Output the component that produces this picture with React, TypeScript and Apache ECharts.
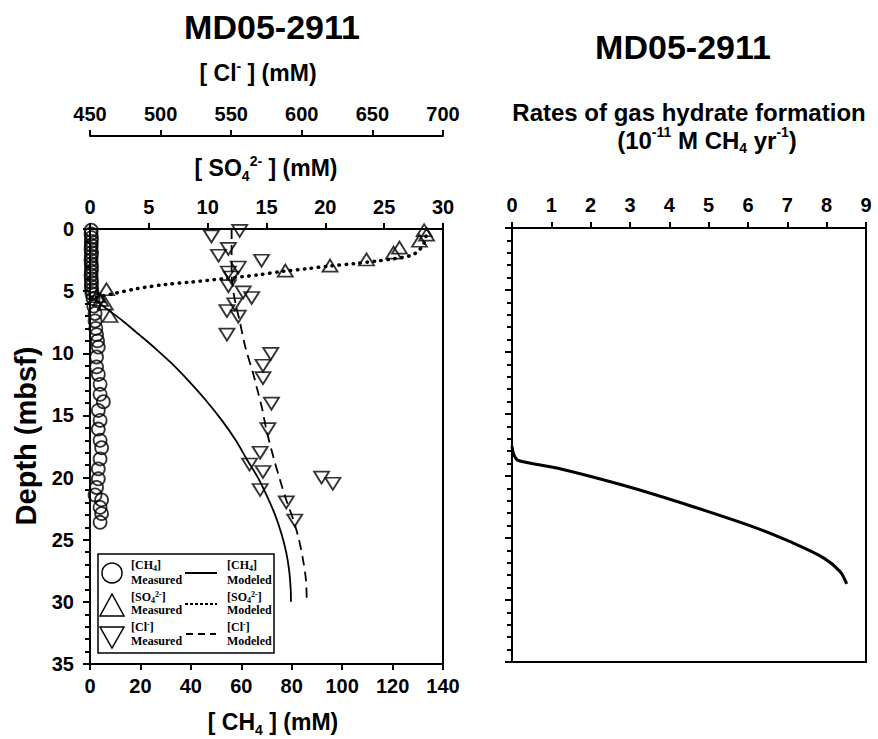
import React, { useEffect, useRef } from "react";
import * as echarts from "echarts";

const FONT = "'Liberation Sans', Arial, Helvetica, sans-serif";
const SERIF = "'Liberation Serif', 'Times New Roman', serif";

// ---- Axis ranges / ticks ----
const depthAxis = { min: 0, max: 35, interval: 5 };
const so4Axis = { min: 0, max: 30, interval: 5 };
const clAxis = { min: 450, max: 700, interval: 50 };
const ch4Axis = { min: 0, max: 140, interval: 20 };
const rateAxis = { min: 0, max: 9, interval: 1 };

// ---- Measured CH4 (mM) vs depth (mbsf) ----
const ch4MeasDepth = [0.1, 0.4, 0.7, 1.0, 1.3, 1.6, 1.9, 2.2, 2.5, 2.8, 3.1, 3.4, 3.7, 4.0, 4.3, 4.6, 4.9, 5.2, 5.6, 6.2, 6.8, 7.4, 8.0, 8.5, 9.0, 9.5, 10.3, 11.1, 11.7, 12.5, 13.3, 13.9, 14.6, 15.4, 16.1, 17.0, 17.6, 18.5, 19.3, 20.1, 20.8, 21.4, 21.8, 22.4, 22.9, 23.6];
const ch4MeasConc = [0.5, 0.4, 0.6, 0.5, 0.5, 0.4, 0.6, 0.5, 0.4, 0.5, 0.6, 0.5, 0.4, 0.5, 0.6, 0.5, 0.7, 0.8, 1.2, 1.5, 2.0, 2.0, 2.3, 2.6, 3.0, 3.3, 2.6, 2.6, 3.3, 4.0, 4.0, 5.3, 3.3, 4.0, 3.3, 4.0, 4.6, 4.0, 3.3, 3.3, 2.6, 2.0, 4.6, 4.0, 4.6, 4.0];

// ---- Measured SO4 (mM) ----
const so4MeasDepth = [0.1, 0.45, 0.95, 1.5, 1.9, 2.45, 2.95, 3.35, 4.85, 5.4, 5.7, 6.0, 7.0];
const so4MeasConc = [28.4, 28.6, 28.0, 26.3, 25.8, 23.5, 20.4, 16.6, 1.4, 0.6, 0.9, 1.3, 1.7];

// ---- Measured Cl (mM) ----
const clMeasDepth = [0.15, 0.6, 1.6, 2.15, 2.55, 3.1, 3.5, 3.9, 4.6, 5.1, 5.55, 6.05, 6.6, 7.05, 8.5, 10.05, 11.0, 12.0, 14.05, 16.1, 18.0, 18.95, 19.55, 20.0, 20.5, 21.0, 22.0, 23.45];
const clMeasConc = [556, 536, 548, 541, 571.5, 555, 548, 550, 548, 558.5, 564.5, 552.5, 547, 555, 547, 578, 572.5, 572.5, 578.5, 576, 570.5, 563, 572.5, 614, 622, 570.5, 589, 595];

// ---- Modeled profiles ----
const ch4ModDepth = [5.4, 6.2, 7.4, 8.5, 9.5, 10.8, 12.2, 13.7, 15.4, 17.0, 18.6, 20.0, 21.5, 23.0, 24.5, 26.0, 27.5, 29.0, 30.0];
const ch4ModConc = [0.3, 5.2, 13.0, 19.5, 25.3, 32.3, 39.0, 45.6, 52.3, 57.8, 62.4, 66.6, 70.2, 73.4, 75.9, 77.8, 79.0, 79.6, 79.7];

const so4ModDepth = [0, 0.9, 1.4, 1.8, 2.15, 2.4, 2.57, 2.78, 2.97, 3.2, 3.4, 3.7, 4.0, 4.28, 4.45, 4.8, 5.2, 5.45, 5.6];
const so4ModConc = [28.6, 28.5, 28.2, 27.9, 27.2, 25.8, 24.4, 22.5, 20.4, 18.4, 16.4, 14.2, 11.3, 8.5, 6.5, 4.0, 2.0, 0.8, 0];

const clModDepth = [0, 3.5, 5.0, 6.2, 7.4, 9.5, 11.6, 12.7, 14.5, 16.2, 18.4, 20.2, 21.8, 23.4, 25.0, 26.7, 28.3, 30.0];
const clModConc = [550.3, 550.3, 551.5, 553.5, 556, 560, 565.5, 568, 572, 575, 580, 584.6, 589, 594, 598, 601, 603, 603.5];

// ---- Rate of gas hydrate formation (1e-11 M CH4 / yr) ----
const rateDepth = [17.6, 18.3, 18.75, 19.35, 20.75, 22.4, 24.2, 25.3, 26.6, 27.7, 28.7];
const rateValue = [0, 0.05, 0.16, 1.14, 2.83, 4.53, 6.22, 7.07, 7.92, 8.34, 8.51];

const pairs = (xs: number[], ys: number[]) => xs.map((x, i) => [x, ys[i]]);

const black = "#000";
const labelStyle = { color: black, fontSize: 20, fontWeight: "bold" as const, fontFamily: FONT };
const lineAx = { show: true, onZero: false, lineStyle: { color: black, width: 2 } };
const tickAx = (len: number) => ({ show: true, length: len, lineStyle: { color: black, width: 2 } });

const mkRich = (size: number, small: number) => ({
  b: { fontSize: size, fontWeight: "bold", fontFamily: FONT, lineHeight: size + 6, color: black },
  sup: { fontSize: small, fontWeight: "bold", fontFamily: FONT, lineHeight: small + 1, verticalAlign: "top", color: black },
  sub: { fontSize: small, fontWeight: "bold", fontFamily: FONT, lineHeight: small + 1, verticalAlign: "bottom", color: black },
});
const rich = mkRich(23, 14);
const rateRich = mkRich(24, 14);
const lrich = {
  b: { fontSize: 12, fontWeight: "bold", fontFamily: SERIF, lineHeight: 14, color: black },
  sup: { fontSize: 8, fontWeight: "bold", fontFamily: SERIF, lineHeight: 8, verticalAlign: "top", color: black },
  sub: { fontSize: 8, fontWeight: "bold", fontFamily: SERIF, lineHeight: 8, verticalAlign: "bottom", color: black },
};

function richText(x: number, y: number, text: string, r: any = rich, align = "center", rotation = 0) {
  return {
    type: "text",
    x,
    y,
    rotation,
    z: 110,
    style: {
      text,
      rich: r,
      fill: black,
      align,
      verticalAlign: "middle",
      textAlign: align,
      textVerticalAlign: "middle",
    },
  };
}

function plainText(x: number, y: number, text: string, size: number, align = "center", rotation = 0, family = FONT) {
  return {
    type: "text",
    x,
    y,
    rotation,
    z: 110,
    style: {
      text,
      fill: black,
      fontSize: size,
      fontWeight: "bold",
      fontFamily: family,
      align,
      verticalAlign: "middle",
      textAlign: align,
      textVerticalAlign: "middle",
    },
  };
}

const hollow = { color: "rgba(0,0,0,0)", borderColor: black, borderWidth: 1.8 };

const option: any = {
  animation: false,
  backgroundColor: "#fff",
  grid: [
    { left: 90, top: 229, width: 353, height: 435, show: true, borderColor: black, borderWidth: 2, backgroundColor: "transparent" },
    { left: 512, top: 228, width: 354, height: 434, show: true, borderColor: black, borderWidth: 2, backgroundColor: "transparent" },
  ],
  xAxis: [
    {
      gridIndex: 0, type: "value", position: "top", ...so4Axis,
      axisLine: lineAx, axisTick: tickAx(6), splitLine: { show: false },
      axisLabel: { ...labelStyle, margin: 12, showMinLabel: true, showMaxLabel: true },
    },
    {
      gridIndex: 0, type: "value", position: "top", offset: 93, ...clAxis,
      axisLine: lineAx, axisTick: tickAx(6), splitLine: { show: false },
      axisLabel: { ...labelStyle, margin: 12, showMinLabel: true, showMaxLabel: true },
    },
    {
      gridIndex: 0, type: "value", position: "bottom", ...ch4Axis,
      axisLine: lineAx, axisTick: tickAx(6), splitLine: { show: false },
      axisLabel: { ...labelStyle, margin: 12, showMinLabel: true, showMaxLabel: true },
    },
    {
      gridIndex: 1, type: "value", position: "top", ...rateAxis,
      axisLine: lineAx, axisTick: tickAx(6), splitLine: { show: false },
      axisLabel: { ...labelStyle, margin: 13, showMinLabel: true, showMaxLabel: true },
    },
  ],
  yAxis: [
    {
      gridIndex: 0, type: "value", inverse: true, ...depthAxis,
      axisLine: lineAx, axisTick: tickAx(7),
      minorTick: { show: true, splitNumber: 5, length: 5, lineStyle: { color: black, width: 2 } },
      splitLine: { show: false }, minorSplitLine: { show: false },
      axisLabel: { ...labelStyle, margin: 16, showMinLabel: true, showMaxLabel: true },
    },
    {
      gridIndex: 1, type: "value", inverse: true, ...depthAxis,
      axisLine: lineAx, axisTick: tickAx(7),
      minorTick: { show: true, splitNumber: 5, length: 5, lineStyle: { color: black, width: 2 } },
      splitLine: { show: false }, minorSplitLine: { show: false },
      axisLabel: { show: false },
    },
  ],
  series: [
    {
      name: "[CH4] Measured", type: "scatter", xAxisIndex: 2, yAxisIndex: 0,
      data: pairs(ch4MeasConc, ch4MeasDepth), symbol: "circle", symbolSize: 13,
      itemStyle: hollow, z: 5,
    },
    {
      name: "[SO4] Measured", type: "scatter", xAxisIndex: 0, yAxisIndex: 0,
      data: pairs(so4MeasConc, so4MeasDepth), symbol: "triangle", symbolSize: [15, 12],
      itemStyle: hollow, z: 5,
    },
    {
      name: "[Cl] Measured", type: "scatter", xAxisIndex: 1, yAxisIndex: 0,
      data: pairs(clMeasConc, clMeasDepth), symbol: "triangle", symbolRotate: 180, symbolSize: [15, 12],
      itemStyle: hollow, z: 5,
    },
    {
      name: "[CH4] Modeled", type: "line", xAxisIndex: 2, yAxisIndex: 0,
      data: pairs(ch4ModConc, ch4ModDepth), showSymbol: false, symbol: "none", smooth: 0.3,
      lineStyle: { color: black, width: 1.8 }, z: 4,
    },
    {
      name: "[SO4] Modeled", type: "line", xAxisIndex: 0, yAxisIndex: 0,
      data: pairs(so4ModConc, so4ModDepth), showSymbol: false, symbol: "none", smooth: 0.3,
      lineStyle: { color: black, width: 3.5, type: [0.5, 6.5], cap: "round" }, z: 4,
    },
    {
      name: "[Cl] Modeled", type: "line", xAxisIndex: 1, yAxisIndex: 0,
      data: pairs(clModConc, clModDepth), showSymbol: false, symbol: "none", smooth: 0.3,
      lineStyle: { color: black, width: 1.8, type: [10, 6] }, z: 4,
    },
    {
      name: "Rate", type: "line", xAxisIndex: 3, yAxisIndex: 1,
      data: pairs(rateValue, rateDepth), showSymbol: false, symbol: "none", smooth: 0.3,
      lineStyle: { color: black, width: 3 }, z: 4,
    },
  ],
  graphic: [
    plainText(272, 27, "MD05-2911", 34),
    plainText(683, 47, "MD05-2911", 34),
    richText(258, 73, "{b|[ Cl}{sup|-}{b| ] (mM)}"),
    richText(266, 168, "{b|[ SO}{sub|4}{sup|2-}{b| ] (mM)}"),
    richText(273, 722, "{b|[ CH}{sub|4}{b| ] (mM)}"),
    plainText(26, 436, "Depth (mbsf)", 29, "center", Math.PI / 2),
    plainText(689, 112, "Rates of gas hydrate formation", 24),
    richText(707, 140, "{b|(10}{sup|-11}{b| M CH}{sub|4}{b| yr}{sup|-1}{b|)}", rateRich),
    // legend
    {
      type: "rect", z: 100,
      shape: { x: 98, y: 554, width: 176, height: 99 },
      style: { fill: "#fff", stroke: black, lineWidth: 1.5 },
    },
    { type: "circle", z: 105, shape: { cx: 112, cy: 573, r: 10 }, style: { fill: "none", stroke: black, lineWidth: 1.5 } },
    { type: "polygon", z: 105, shape: { points: [[100, 616], [124, 616], [112, 594]] }, style: { fill: "none", stroke: black, lineWidth: 1.5 } },
    { type: "polygon", z: 105, shape: { points: [[100, 627], [124, 627], [112, 648]] }, style: { fill: "none", stroke: black, lineWidth: 1.5 } },
    { type: "line", z: 105, shape: { x1: 185, y1: 573, x2: 217, y2: 573 }, style: { stroke: black, lineWidth: 2 } },
    { type: "line", z: 105, shape: { x1: 185, y1: 604, x2: 217, y2: 604 }, style: { stroke: black, lineWidth: 2, lineDash: [3, 2] } },
    { type: "line", z: 105, shape: { x1: 186, y1: 634, x2: 216, y2: 634 }, style: { stroke: black, lineWidth: 2, lineDash: [7, 5] } },
    richText(131, 565, "{b|[CH}{sub|4}{b|]}", lrich, "left"),
    plainText(131, 580, "Measured", 12, "left", 0, SERIF),
    richText(227, 565, "{b|[CH}{sub|4}{b|]}", lrich, "left"),
    plainText(227, 580, "Modeled", 12, "left", 0, SERIF),
    richText(131, 597, "{b|[SO}{sub|4}{sup|2-}{b|]}", lrich, "left"),
    plainText(131, 610, "Measured", 12, "left", 0, SERIF),
    richText(227, 597, "{b|[SO}{sub|4}{sup|2-}{b|]}", lrich, "left"),
    plainText(227, 610, "Modeled", 12, "left", 0, SERIF),
    richText(131, 627, "{b|[Cl}{sup|-}{b|]}", lrich, "left"),
    plainText(131, 641, "Measured", 12, "left", 0, SERIF),
    richText(227, 627, "{b|[Cl}{sup|-}{b|]}", lrich, "left"),
    plainText(227, 641, "Modeled", 12, "left", 0, SERIF),
  ],
};

export default function App() {
  const ref = useRef<HTMLDivElement>(null);
  useEffect(() => {
    if (!ref.current) return;
    const chart = echarts.init(ref.current, null, { renderer: "svg" });
    chart.setOption(option);
    return () => chart.dispose();
  }, []);
  return (
    <div
      ref={ref}
      style={{ position: "absolute", left: 0, top: 0, width: 878, height: 739, background: "#fff" }}
    />
  );
}
